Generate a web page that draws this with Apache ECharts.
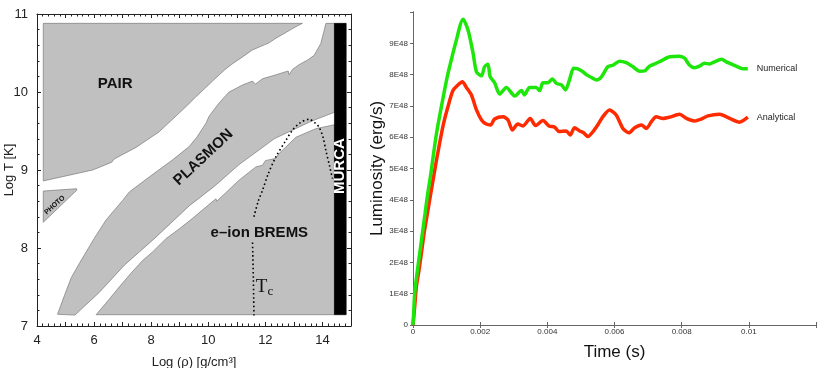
<!DOCTYPE html>
<html>
<head>
<meta charset="utf-8">
<script src="https://cdn.jsdelivr.net/npm/echarts@6/dist/echarts.min.js"></script>
<style>
  html, body { margin: 0; padding: 0; background: #fff; }
  #chart { width: 830px; height: 368px; }
</style>
</head>
<body>
<div id="chart"></div>
<script>
(function () {

    "use strict";

    // ---- left panel: emission regions in (log rho, log T) ----
    const pairRegion = [
        [4.22, 10.88], [13.3, 10.88], [13.18, 10.86], [12.89, 10.8], [12.66, 10.75], [12.37, 10.69],
        [12.13, 10.63], [11.55, 10.54], [11.2, 10.45], [10.8, 10.35], [10.56, 10.28],
        [10.15, 10.14], [9.86, 10.04], [9.57, 9.94], [9.27, 9.83], [8.98, 9.73], [8.28, 9.49],
        [7.47, 9.29], [6.7, 9.14], [6.62, 9.1], [5.95, 9.0], [4.22, 8.86]
    ];
    const plasmonRegion = [
        [4.72, 7.15], [4.96, 7.39], [5.2, 7.62], [5.48, 7.8], [6.0, 8.12], [6.42, 8.36], [7.0, 8.61],
        [7.24, 8.72], [7.93, 8.91], [8.75, 9.13], [9.33, 9.3], [9.6, 9.42], [9.92, 9.6], [10.03, 9.69],
        [10.38, 9.86], [10.73, 10.0], [11.2, 10.09], [11.55, 10.14], [11.65, 10.1], [11.9, 10.17],
        [12.37, 10.22], [12.8, 10.27], [12.83, 10.22], [12.95, 10.29], [13.18, 10.35], [13.48, 10.41],
        [13.71, 10.47], [13.94, 10.62], [14.06, 10.79], [14.12, 10.88], [14.42, 10.88], [14.42, 9.74],
        [13.64, 9.63], [12.94, 9.51], [12.31, 9.4], [11.68, 9.23], [11.08, 9.07], [10.21, 8.79],
        [9.33, 8.54], [8.11, 8.12], [7.06, 7.78], [6.18, 7.43], [5.33, 7.14]
    ];
    const bremsRegion = [
        [6.07, 7.145], [6.5, 7.33], [6.88, 7.5], [7.3, 7.68], [7.7, 7.84], [8.05, 7.95], [8.52, 8.12],
        [9.0, 8.25], [9.45, 8.38], [10.0, 8.55], [10.27, 8.63], [10.3, 8.6], [11.08, 8.87], [11.67, 9.04],
        [11.9, 9.06], [12.0, 9.12], [12.37, 9.15], [12.45, 9.2], [13.07, 9.42], [13.77, 9.53],
        [14.42, 9.58], [14.42, 7.145]
    ];
    const photoRegion = [[4.22, 8.73], [5.39, 8.76], [5.39, 8.74], [4.22, 8.33]];
    const murcaRegion = [[14.42, 7.145], [14.83, 7.145], [14.83, 10.88], [14.42, 10.88]];

    const critCurve = [
        [11.6, 8.4], [11.75, 8.6], [11.9, 8.74], [12.1, 8.95], [12.37, 9.17], [12.72, 9.38],
        [12.95, 9.51], [13.2, 9.6], [13.53, 9.65], [13.75, 9.6], [13.88, 9.55], [14.02, 9.42],
        [14.12, 9.25], [14.25, 9.05], [14.35, 8.89]
    ];
    const tcLine = [[11.55, 8.07], [11.58, 7.6], [11.6, 7.12]];

    // ---- right panel: luminosity vs time (values in units of 1E48 erg/s) ----
    const numericalTime = [
        0, 0.00002, 0.00005, 0.00012, 0.0002, 0.00028, 0.00036, 0.00044, 0.00052, 0.0007, 0.001,
        0.00109, 0.00129, 0.00149, 0.00164, 0.00179, 0.00189, 0.00204, 0.00213, 0.00223, 0.0023,
        0.00243, 0.00258, 0.00278, 0.00303, 0.00323, 0.00332, 0.00347, 0.00367, 0.00377, 0.00387,
        0.00402, 0.00415, 0.00427, 0.00442, 0.00454, 0.00466, 0.00478, 0.00491, 0.00506, 0.00516,
        0.00536, 0.00546, 0.00561, 0.0058, 0.00595, 0.00615, 0.00635, 0.00655, 0.00675, 0.0069,
        0.00704, 0.00734, 0.00764, 0.00794, 0.00809, 0.00823, 0.00838, 0.00853, 0.00868, 0.00883,
        0.00898, 0.00918, 0.00938, 0.00962, 0.00982, 0.00997
    ];
    const numericalLum = [
        0, 0.37, 1.01, 1.65, 2.29, 2.93, 3.57, 4.21, 4.75, 6.12, 7.83,
        8.25, 9.1, 9.77, 9.42, 8.68, 8.09, 7.96, 8.25, 8.33, 7.93,
        7.74, 7.38, 7.59, 7.32, 7.49, 7.35, 7.59, 7.59, 7.49, 7.74,
        7.74, 7.86, 7.72, 7.67, 7.51, 7.83, 8.2, 8.18, 8.09, 8.0,
        7.88, 7.83, 7.93, 8.25, 8.3, 8.43, 8.38, 8.25, 8.11, 8.12,
        8.27, 8.41, 8.57, 8.59, 8.52, 8.31, 8.22, 8.27, 8.36, 8.34,
        8.41, 8.49, 8.38, 8.27, 8.19, 8.19
    ];
    const analyticalTime = [
        0, 0.00005, 0.0001, 0.00018, 0.00025, 0.00033, 0.00043, 0.00053, 0.0007, 0.00089, 0.00104,
        0.00119, 0.00134, 0.00147, 0.00159, 0.00174, 0.00189, 0.00204, 0.00218, 0.00231, 0.00243,
        0.00268, 0.00283, 0.00296, 0.00312, 0.00327, 0.00349, 0.00365, 0.00387, 0.00405, 0.00422,
        0.00435, 0.00456, 0.00468, 0.00481, 0.00496, 0.00508, 0.00521, 0.00536, 0.0055, 0.00565,
        0.00585, 0.00605, 0.00625, 0.00643, 0.0066, 0.0068, 0.00695, 0.0071, 0.00724, 0.00744,
        0.00764, 0.00794, 0.00814, 0.00838, 0.00858, 0.00878, 0.00913, 0.00943, 0.00972, 0.00997
    ];
    const analyticalLum = [
        0, 0.58, 1.22, 1.76, 2.29, 2.93, 3.57, 4.21, 5.27, 6.34, 6.97,
        7.49, 7.67, 7.77, 7.59, 7.35, 6.87, 6.55, 6.42, 6.39, 6.58,
        6.65, 6.55, 6.23, 6.42, 6.36, 6.6, 6.37, 6.53, 6.36, 6.32,
        6.18, 6.2, 6.07, 6.3, 6.2, 6.14, 6.02, 6.18, 6.39, 6.65,
        6.87, 6.71, 6.28, 6.14, 6.3, 6.39, 6.28, 6.5, 6.65, 6.6,
        6.64, 6.73, 6.6, 6.52, 6.58, 6.68, 6.73, 6.6, 6.48, 6.64
    ];

    const FONT = "'Liberation Sans', Arial, sans-serif";
    const GRAY = '#c0c0c0';

    const leftRegions = [
        { points: pairRegion, fill: GRAY, stroke: '#7a7a7a' },
        { points: plasmonRegion, fill: GRAY, stroke: '#7a7a7a' },
        { points: bremsRegion, fill: GRAY, stroke: '#7a7a7a' },
        { points: photoRegion, fill: GRAY, stroke: '#7a7a7a' },
        { points: murcaRegion, fill: '#000', stroke: '#000' }
    ];

    // region labels, placed in data coordinates
    const annotations = [
        { text: 'PAIR', at: [6.74, 10.1], rot: 0, font: 'bold 15px ' + FONT, color: '#111' },
        { text: 'PLASMON', at: [9.83, 9.16], rot: 43, font: 'bold 15px ' + FONT, color: '#111' },
        { text: 'e\u2013ion BREMS', at: [11.79, 8.2], rot: 0, font: 'bold 15px ' + FONT, color: '#111' },
        { text: 'MURCA', at: [14.62, 9.05], rot: 90, font: 'bold 15px ' + FONT, color: '#fff' },
        { text: 'PHOTO', at: [4.62, 8.55], rot: 42, font: 'bold 7px ' + FONT, color: '#111' },
        { text: '{t|T}{s|c}', at: [11.97, 7.5], rot: 0, font: '19px Liberation Serif', color: '#111' }
    ];

    const zip = (xs, ys) => xs.map((x, i) => [x, ys[i]]);

    const chart = echarts.init(document.getElementById('chart'), null, { renderer: 'canvas' });

    const leftAxisCommon = {
        gridIndex: 0,
        type: 'value',
        interval: 1,
        splitLine: { show: false },
        axisLine: { show: true, lineStyle: { color: '#222', width: 1 } },
        axisTick: { show: true, inside: true, length: 4, lineStyle: { color: '#222' } },
        minorTick: { show: true, splitNumber: 5, length: 2.5, lineStyle: { color: '#222' } }
    };

    const rightAxisCommon = {
        gridIndex: 1,
        type: 'value',
        splitLine: { show: false },
        axisLine: { show: true, lineStyle: { color: '#666', width: 1 } },
        axisTick: { show: true, inside: true, length: 3, lineStyle: { color: '#666' } }
    };

    const option = {
        animation: false,
        backgroundColor: '#fff',
        textStyle: { fontFamily: FONT },
        grid: [
            { left: 37, top: 14, width: 314, height: 312, outerBoundsMode: 'none' },
            { left: 413, top: 12, width: 403, height: 313, outerBoundsMode: 'none' }
        ],
        xAxis: [
            Object.assign({}, leftAxisCommon, {
                min: 4, max: 15, position: 'bottom',
                axisLabel: {
                    margin: 8, fontSize: 13, color: '#222',
                    formatter: v => (v % 2 === 0 && v < 15 ? String(v) : '')
                },
                name: 'Log (\u03c1) [g/cm\u00b3]', nameLocation: 'middle', nameGap: 30,
                nameTextStyle: { fontSize: 13, color: '#222' }
            }),
            Object.assign({}, leftAxisCommon, {
                min: 4, max: 15, position: 'top', axisLabel: { show: false }
            }),
            Object.assign({}, rightAxisCommon, {
                min: 0, max: 0.012, interval: 0.002, position: 'bottom',
                axisLabel: {
                    margin: 3, fontSize: 8, color: '#333',
                    formatter: v => (v > 0.0119 ? '' : String(+v.toFixed(3)))
                },
                name: 'Time (s)', nameLocation: 'middle', nameGap: 19,
                nameTextStyle: { fontSize: 17, color: '#111' }
            }),
            Object.assign({}, rightAxisCommon, {
                min: 0, max: 0.012, interval: 0.002, position: 'top', axisLabel: { show: false }
            })
        ],
        yAxis: [
            Object.assign({}, leftAxisCommon, {
                min: 7, max: 11, position: 'left',
                axisLabel: { margin: 9, fontSize: 13, color: '#222' },
                name: 'Log T [K]', nameLocation: 'middle', nameGap: 21, nameMoveOverlap: false,
                nameTextStyle: { fontSize: 13, color: '#222' }
            }),
            Object.assign({}, leftAxisCommon, {
                min: 7, max: 11, position: 'right', axisLabel: { show: false }
            }),
            Object.assign({}, rightAxisCommon, {
                min: 0, max: 10, interval: 1, position: 'left',
                axisTick: { show: true, inside: false, length: 3, lineStyle: { color: '#666' } },
                axisLabel: {
                    margin: 5, fontSize: 8, color: '#333',
                    formatter: v => (v === 0 ? '0' : (v < 10 ? v + 'E48' : ''))
                },
                name: 'Luminosity (erg/s)', nameLocation: 'middle', nameGap: 27,
                nameTextStyle: { fontSize: 17, color: '#111' }
            }),
            Object.assign({}, rightAxisCommon, {
                min: 0, max: 10, interval: 1, position: 'right', axisLabel: { show: false }
            })
        ],
        series: [
            {
                name: 'regions',
                type: 'custom',
                xAxisIndex: 0,
                yAxisIndex: 0,
                clip: true,
                data: leftRegions.map(r => r.points[0]),
                renderItem: function (params, api) {
                    const r = leftRegions[params.dataIndex];
                    return {
                        type: 'polygon',
                        shape: { points: r.points.map(p => api.coord(p)) },
                        style: { fill: r.fill, stroke: r.stroke, lineWidth: 0.7 }
                    };
                },
                z: 1
            },
            {
                name: 'critical',
                type: 'line',
                xAxisIndex: 0,
                yAxisIndex: 0,
                data: critCurve,
                showSymbol: false,
                smooth: 0.3,
                lineStyle: { color: '#000', width: 1.6, type: [1.6, 2.6] },
                z: 3
            },
            {
                name: 'Tc',
                type: 'line',
                xAxisIndex: 0,
                yAxisIndex: 0,
                data: tcLine,
                showSymbol: false,
                smooth: 0.3,
                lineStyle: { color: '#000', width: 1.6, type: [1.6, 2.6] },
                z: 3
            },
            {
                name: 'labels',
                type: 'custom',
                xAxisIndex: 0,
                yAxisIndex: 0,
                data: annotations.map(a => a.at),
                renderItem: function (params, api) {
                    const a = annotations[params.dataIndex];
                    const p = api.coord(a.at);
                    return {
                        type: 'text',
                        x: p[0],
                        y: p[1],
                        rotation: a.rot * Math.PI / 180,
                        style: {
                            text: a.text,
                            font: a.font,
                            fill: a.color,
                            align: 'center',
                            verticalAlign: 'middle',
                            rich: {
                                t: { font: '19px Liberation Serif', fill: '#111' },
                                s: { font: '13px Liberation Serif', fill: '#111', padding: [9, 0, 0, 0] }
                            }
                        }
                    };
                },
                z: 4
            },
            {
                name: 'Analytical',
                type: 'line',
                xAxisIndex: 2,
                yAxisIndex: 2,
                data: zip(analyticalTime, analyticalLum),
                showSymbol: false,
                smooth: 0.25,
                lineStyle: { color: '#ff2a00', width: 3.5 },
                endLabel: { show: true, formatter: '{a}', distance: 9, fontSize: 9, color: '#222' }
            },
            {
                name: 'Numerical',
                type: 'line',
                xAxisIndex: 2,
                yAxisIndex: 2,
                data: zip(numericalTime, numericalLum),
                showSymbol: false,
                smooth: 0.25,
                lineStyle: { color: '#1ee60a', width: 3.5 },
                endLabel: { show: true, formatter: '{a}', distance: 9, fontSize: 9, color: '#222' }
            }
        ]
    };

    chart.setOption(option);

})();
</script>
</body>
</html>
